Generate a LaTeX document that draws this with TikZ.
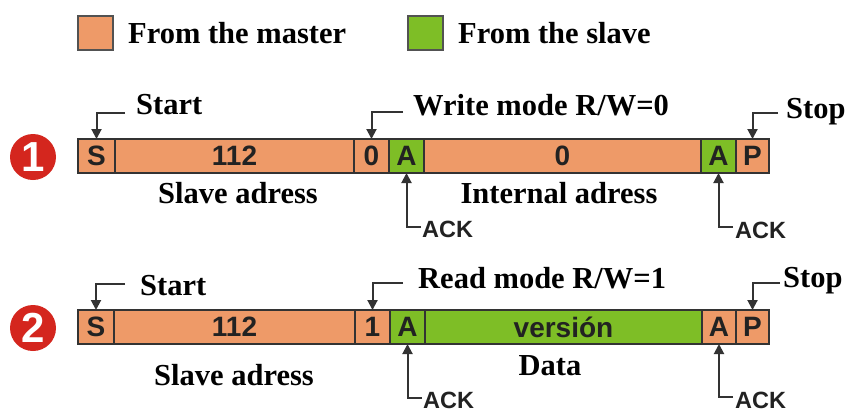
\documentclass[tikz,border=0pt]{standalone}
\usepackage{fontspec}
\setmainfont{Liberation Serif}
\newfontfamily\cellfont{Liberation Sans}
\usetikzlibrary{arrows.meta}

\definecolor{mst}{HTML}{EE9A68}
\definecolor{slv}{HTML}{7EBE26}
\definecolor{edge}{HTML}{333333}
\definecolor{ink}{HTML}{222222}
\definecolor{badge}{HTML}{D4261E}

\tikzset{
  cell/.style={draw=edge, line width=1.5pt, rectangle, anchor=west, inner sep=0pt, outer sep=0pt,
    minimum height=34pt, text=ink, font=\cellfont\bfseries\fontsize{28}{28}\selectfont},
  lbl/.style={anchor=base west, inner sep=0pt, font=\bfseries\fontsize{30.5}{30.5}\selectfont},
  clbl/.style={anchor=base, inner sep=0pt, font=\bfseries\fontsize{30.5}{30.5}\selectfont},
  acklbl/.style={anchor=base west, inner sep=0pt, text=ink,
    font=\cellfont\bfseries\fontsize{23.5}{23.5}\selectfont},
  ptr/.style={draw=edge, line width=2pt, -{Triangle[length=10pt,width=10pt]}},
  key/.style={draw=edge!85, line width=2pt, rectangle, minimum width=35pt, minimum height=34pt, inner sep=0pt},
  num/.style={circle, fill=badge, minimum size=46pt, inner sep=0pt, text=white,
    font=\cellfont\bfseries\fontsize{42}{42}\selectfont}
}

\begin{document}
\begin{tikzpicture}[x=1pt, y=-1pt]
\useasboundingbox (0,0) rectangle (845,413);

% legend
\node[key, fill=mst] (kmaster) at (95.5,32.5) {};
\node[lbl] (tmaster) at (128,43) {From the master};
\node[key, fill=slv] (kslave) at (425,32.5) {};
\node[lbl] (tslave) at (458,43) {From the slave};

% ---------- frame 1: write ----------
\node[num] (n1) at (33,157) {1};
\node[cell, fill=mst, minimum width=37pt]  (s1)  at (78,156)  {S};
\node[cell, fill=mst, minimum width=239pt] (ad1) at (s1.east) {112};
\node[cell, fill=mst, minimum width=35pt]  (rw1) at (ad1.east) {0};
\node[cell, fill=slv, minimum width=35pt]  (a1)  at (rw1.east) {A};
\node[cell, fill=mst, minimum width=277pt] (d1)  at (a1.east) {0};
\node[cell, fill=slv, minimum width=35pt]  (b1)  at (d1.east) {A};
\node[cell, fill=mst, minimum width=33pt]  (p1)  at (b1.east) {P};

\node[lbl] (start1) at (136,114) {Start};
\node[lbl] (mode1) at (413,115) {Write mode R/W=0};
\node[lbl] (stop1) at (786,118) {Stop};
\node[clbl] (sa1) at (238,203) {Slave adress};
\node[clbl] (ia1) at (559,203) {Internal adress};
\node[acklbl] (ack1a) at (422,237) {ACK};
\node[acklbl] (ack1b) at (735,238) {ACK};

\coordinate (c1s) at (125,113);
\coordinate (c1m) at (403,112);
\coordinate (c1p) at (778,113);
\coordinate (c1a) at (421,227);
\coordinate (c1b) at (733,227);
\draw[ptr] (c1s) -| (s1.north);
\draw[ptr] (c1m) -| (rw1.north);
\draw[ptr] (c1p) -| (p1.north);
\draw[ptr] (c1a) -| (a1.south);
\draw[ptr] (c1b) -| (b1.south);

% ---------- frame 2: read ----------
\node[num] (n2) at (33,328) {2};
\node[cell, fill=mst, minimum width=36pt]  (s2)  at (78,327)  {S};
\node[cell, fill=mst, minimum width=241pt] (ad2) at (s2.east) {112};
\node[cell, fill=mst, minimum width=35pt]  (rw2) at (ad2.east) {1};
\node[cell, fill=slv, minimum width=35pt]  (a2)  at (rw2.east) {A};
\node[cell, fill=slv, minimum width=277pt] (d2)  at (a2.east) {versión};
\node[cell, fill=mst, minimum width=34pt]  (b2)  at (d2.east) {A};
\node[cell, fill=mst, minimum width=33pt]  (p2)  at (b2.east) {P};

\node[lbl] (start2) at (140,295) {Start};
\node[lbl] (mode2) at (418,288) {Read mode R/W=1};
\node[lbl] (stop2) at (783,287) {Stop};
\node[clbl] (sa2) at (234,385) {Slave adress};
\node[clbl] (da2) at (550,375) {Data};
\node[acklbl] (ack2a) at (423,408) {ACK};
\node[acklbl] (ack2b) at (735,408) {ACK};

\coordinate (c2s) at (125,284);
\coordinate (c2m) at (403,283);
\coordinate (c2p) at (780,283);
\coordinate (c2a) at (422,398);
\coordinate (c2b) at (733,397);
\draw[ptr] (c2s) -| (s2.north);
\draw[ptr] (c2m) -| (rw2.north);
\draw[ptr] (c2p) -| (p2.north);
\draw[ptr] (c2a) -| (a2.south);
\draw[ptr] (c2b) -| (b2.south);
\end{tikzpicture}
\end{document}
